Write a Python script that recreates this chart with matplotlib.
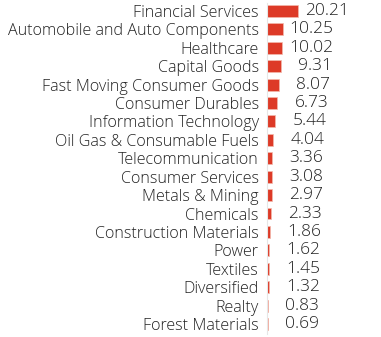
import matplotlib
matplotlib.use("Agg")
import matplotlib.pyplot as plt

categories = ["Financial Services", "Automobile and Auto Components", "Healthcare",
              "Capital Goods", "Fast Moving Consumer Goods", "Consumer Durables",
              "Information Technology", "Oil Gas & Consumable Fuels", "Telecommunication",
              "Consumer Services", "Metals & Mining", "Chemicals", "Construction Materials",
              "Power", "Textiles", "Diversified", "Realty", "Forest Materials"]
values = [20.21, 10.25, 10.02, 9.31, 8.07, 6.73, 5.44, 4.04, 3.36, 3.08, 2.97,
          2.33, 1.86, 1.62, 1.45, 1.32, 0.83, 0.69]
value_labels = ["20.21", "10.25", "10.02", "9.31", "8.07", "6.73", "5.44", "4.04", "3.36",
                "3.08", "2.97", "2.33", "1.86", "1.62", "1.45", "1.32", "0.83", "0.69"]

plt.rcParams['font.family'] = ['Open Sans', 'DejaVu Sans']
W, H = 381, 337
fig = plt.figure(figsize=(W / 100, H / 100), dpi=100)
ax = fig.add_axes([267 / W, 0, 114 / W, 1])

ypos = list(range(len(categories)))
ax.barh(ypos, values, height=0.65, color="#dd3a27", edgecolor="#f4b9ad", linewidth=0.5)
ax.set_xlim(0, 114 / 1.52)
ax.set_ylim(-0.5975 + 337 / 18.41, -0.5975)
ax.set_yticks(ypos)
ax.set_yticklabels(categories, fontsize=11.6, color="#222222", fontweight="light")
ax.tick_params(axis='y', length=0, pad=6)
ax.set_xticks([])
for s in ["top", "right", "bottom"]:
    ax.spines[s].set_visible(False)
ax.spines["left"].set_color("#e6e6e6")
ax.spines["left"].set_linewidth(0.8)
ax.spines["left"].set_bounds(17.55, -0.45)

for y, v, lab in zip(ypos, values, value_labels):
    ax.annotate(lab, xy=(v, y), xytext=(51, 0), textcoords="offset pixels",
                ha="right", va="center", fontsize=12.5, color="#222222",
                fontweight="light")

fig.savefig("out.png", dpi=100)
